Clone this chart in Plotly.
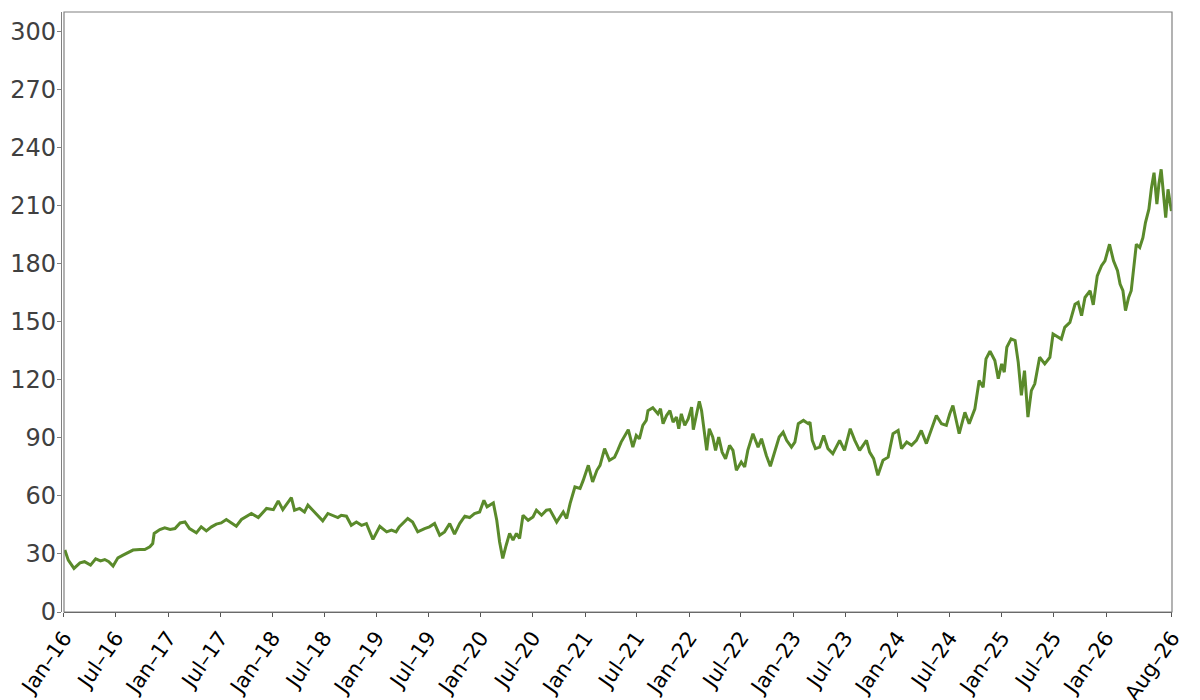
import plotly.graph_objects as go

# --- 資料 (讀自參考圖) ---
dates = [
    "2016-01-04", "2016-01-16", "2016-02-05", "2016-02-26", "2016-03-13", "2016-04-03", "2016-04-21",
    "2016-05-08", "2016-05-23", "2016-06-06", "2016-06-21", "2016-07-08", "2016-07-26", "2016-08-13",
    "2016-08-30", "2016-09-23", "2016-10-10", "2016-10-28", "2016-11-07", "2016-11-12", "2016-12-02",
    "2016-12-19", "2017-01-07", "2017-01-24", "2017-02-11", "2017-02-28", "2017-03-16", "2017-04-09",
    "2017-04-26", "2017-05-14", "2017-06-01", "2017-06-18", "2017-07-05", "2017-07-23", "2017-08-10",
    "2017-08-27", "2017-09-14", "2017-10-02", "2017-10-19", "2017-11-12", "2017-11-29", "2017-12-11",
    "2018-01-04", "2018-01-21", "2018-02-06", "2018-02-19", "2018-03-08", "2018-03-19", "2018-04-06",
    "2018-04-23", "2018-05-05", "2018-05-22", "2018-06-09", "2018-06-26", "2018-07-14", "2018-08-01",
    "2018-08-18", "2018-08-30", "2018-09-17", "2018-10-04", "2018-10-22", "2018-11-09", "2018-11-26",
    "2018-12-08", "2018-12-19", "2019-01-12", "2019-02-05", "2019-02-22", "2019-03-10", "2019-03-21",
    "2019-04-20", "2019-05-07", "2019-05-25", "2019-06-18", "2019-07-05", "2019-07-23", "2019-08-10",
    "2019-08-27", "2019-09-14", "2019-10-01", "2019-10-19", "2019-11-06", "2019-11-23", "2019-12-10",
    "2019-12-28", "2020-01-12", "2020-01-23", "2020-02-14", "2020-02-26", "2020-03-07", "2020-03-18",
    "2020-03-30", "2020-04-11", "2020-04-23", "2020-05-05", "2020-05-16", "2020-05-28", "2020-06-15",
    "2020-07-02", "2020-07-14", "2020-08-01", "2020-08-18", "2020-08-30", "2020-09-23", "2020-10-16",
    "2020-10-28", "2020-11-09", "2020-11-26", "2020-12-14", "2020-12-25", "2021-01-12", "2021-01-27",
    "2021-02-11", "2021-02-22", "2021-03-10", "2021-03-27", "2021-04-14", "2021-04-25", "2021-05-07",
    "2021-06-01", "2021-06-17", "2021-06-29", "2021-07-10", "2021-07-22", "2021-08-03", "2021-08-09",
    "2021-08-26", "2021-09-13", "2021-09-22", "2021-10-01", "2021-10-13", "2021-10-25", "2021-11-05",
    "2021-11-17", "2021-11-25", "2021-12-04", "2021-12-16", "2021-12-28", "2022-01-09", "2022-01-15",
    "2022-01-27", "2022-02-05", "2022-02-13", "2022-02-21", "2022-03-03", "2022-03-12", "2022-03-24",
    "2022-04-03", "2022-04-14", "2022-04-26", "2022-05-08", "2022-05-22", "2022-06-03", "2022-06-15",
    "2022-07-02", "2022-07-14", "2022-07-25", "2022-08-12", "2022-08-30", "2022-09-11", "2022-09-28",
    "2022-10-12", "2022-10-27", "2022-11-12", "2022-11-26", "2022-12-08", "2022-12-25", "2023-01-06",
    "2023-01-18", "2023-02-05", "2023-02-22", "2023-02-28", "2023-03-08", "2023-03-19", "2023-04-03",
    "2023-04-17", "2023-05-02", "2023-05-19", "2023-06-12", "2023-06-29", "2023-07-19", "2023-08-04",
    "2023-08-21", "2023-09-14", "2023-09-25", "2023-10-09", "2023-10-24", "2023-11-11", "2023-11-29",
    "2023-12-16", "2024-01-03", "2024-01-15", "2024-02-02", "2024-02-19", "2024-03-07", "2024-03-24",
    "2024-04-11", "2024-04-28", "2024-05-16", "2024-06-03", "2024-06-20", "2024-07-02", "2024-07-13",
    "2024-08-04", "2024-08-24", "2024-09-08", "2024-09-28", "2024-10-13", "2024-10-27", "2024-11-06",
    "2024-11-20", "2024-12-07", "2024-12-19", "2024-12-31", "2025-01-09", "2025-01-18", "2025-02-02",
    "2025-02-16", "2025-02-27", "2025-03-10", "2025-03-21", "2025-04-02", "2025-04-14", "2025-04-26",
    "2025-05-07", "2025-05-13", "2025-05-31", "2025-06-18", "2025-06-29", "2025-07-16", "2025-07-28",
    "2025-08-09", "2025-08-27", "2025-09-14", "2025-09-25", "2025-10-07", "2025-10-19", "2025-11-06",
    "2025-11-17", "2025-12-01", "2025-12-16", "2025-12-28", "2026-01-13", "2026-01-27", "2026-02-10",
    "2026-02-19", "2026-03-01", "2026-03-10", "2026-03-21", "2026-03-30", "2026-04-08", "2026-04-17",
    "2026-04-29", "2026-05-10", "2026-05-19", "2026-05-31", "2026-06-09", "2026-06-18", "2026-06-28",
    "2026-07-05", "2026-07-13", "2026-07-22", "2026-07-29", "2026-08-06", "2026-08-18",
]

prices = [
    32.0, 26.8, 22.5, 25.4, 26.0, 24.2, 27.5,
    26.4, 27.1, 26.0, 23.7, 28.0, 29.4, 30.6,
    32.0, 32.3, 32.3, 33.7, 35.4, 40.6, 42.6,
    43.5, 42.6, 43.1, 46.0, 46.5, 43.1, 40.9,
    44.0, 41.9, 44.0, 45.4, 46.0, 47.8, 46.0,
    44.3, 47.8, 49.5, 50.9, 48.8, 51.7, 53.5,
    52.9, 57.4, 52.9, 55.7, 59.1, 52.6, 53.5,
    51.7, 55.2, 52.6, 50.0, 47.1, 50.9, 50.0,
    48.8, 50.0, 49.5, 44.8, 46.5, 44.8, 45.7,
    41.4, 37.5, 44.3, 41.4, 42.3, 41.4, 44.0,
    48.3, 46.5, 41.4, 43.1, 44.0, 45.7, 39.7,
    41.4, 45.7, 40.2, 45.7, 49.5, 48.8, 50.9,
    51.7, 57.7, 54.3, 56.3, 47.4, 36.2, 27.7,
    34.5, 40.6, 37.1, 40.6, 38.0, 50.0, 47.4,
    49.1, 52.6, 50.0, 52.6, 52.9, 46.5, 51.7,
    48.3, 56.0, 64.6, 63.8, 68.0, 75.8, 67.2,
    73.2, 75.8, 84.4, 78.4, 80.0, 83.5, 87.8,
    94.2, 85.2, 91.2, 89.5, 96.4, 99.0, 104.0,
    105.5, 102.4, 105.0, 97.3, 101.5, 104.0, 98.1,
    100.7, 94.7, 102.4, 96.4, 99.8, 105.8, 94.2,
    102.4, 108.9, 104.0, 95.5, 83.5, 94.7, 90.4,
    83.5, 90.4, 82.6, 79.2, 86.1, 83.5, 73.2,
    77.5, 74.9, 83.5, 92.1, 85.2, 89.5, 80.9,
    75.3, 82.6, 90.4, 92.9, 88.7, 85.2, 87.8,
    97.3, 99.0, 97.3, 98.1, 88.7, 84.4, 85.2,
    91.2, 84.4, 81.8, 88.7, 83.5, 94.7, 88.7,
    83.5, 88.7, 82.6, 79.2, 70.6, 78.4, 80.0,
    92.1, 93.8, 84.4, 87.8, 86.1, 88.7, 93.8,
    87.0, 93.8, 101.5, 97.3, 96.4, 102.4, 106.7,
    92.1, 103.2, 97.3, 105.0, 119.6, 116.1, 130.8,
    134.7, 129.9, 120.5, 128.2, 123.9, 136.8, 141.1,
    140.2, 129.0, 111.9, 124.7, 100.7, 114.4, 117.9,
    125.6, 131.6, 128.2, 131.6, 143.6, 141.9, 141.0,
    147.1, 149.6, 159.0, 160.0, 153.1, 162.5, 166.0,
    158.7, 173.7, 178.9, 181.4, 190.0, 181.4, 176.3,
    169.4, 166.0, 155.7, 162.5, 166.0, 179.7, 190.0,
    188.3, 193.4, 201.2, 208.1, 219.2, 227.0, 210.7,
    221.0, 228.7, 215.8, 203.8, 218.4, 207.2,
]

tick_dates = [
    "2016-01-01", "2016-07-01", "2017-01-01", "2017-07-01", "2018-01-01", "2018-07-01",
    "2019-01-01", "2019-07-01", "2020-01-01", "2020-07-01", "2021-01-01", "2021-07-01",
    "2022-01-01", "2022-07-01", "2023-01-01", "2023-07-01", "2024-01-01", "2024-07-01",
    "2025-01-01", "2025-07-01", "2026-01-01", "2026-08-20",
]
tick_labels = [
    "Jan–16", "Jul–16", "Jan–17", "Jul–17", "Jan–18", "Jul–18",
    "Jan–19", "Jul–19", "Jan–20", "Jul–20", "Jan–21", "Jul–21",
    "Jan–22", "Jul–22", "Jan–23", "Jul–23", "Jan–24", "Jul–24",
    "Jan–25", "Jul–25", "Jan–26", "Aug–26",
]
y_ticks = [0, 30, 60, 90, 120, 150, 180, 210, 240, 270, 300]

LINE_COLOR = "#5a8a2b"
X0 = 0.0027  # 左邊框與 y 軸線之間的小間距

fig = go.Figure()
fig.add_trace(go.Scatter(x=dates, y=prices, mode="lines",
                         line=dict(color=LINE_COLOR, width=3), showlegend=False))

# 外框
fig.add_shape(type="rect", xref="paper", yref="paper", x0=X0, x1=1, y0=0, y1=1,
              line=dict(color="#808080", width=1.2), layer="above")

# 頁面 body 有 8px 邊距，所以邊界往回扣
fig.update_layout(
    width=1200, height=700,
    margin=dict(l=53, r=36, t=4, b=96),
    paper_bgcolor="white", plot_bgcolor="white",
    font=dict(family="DejaVu Sans"),
    xaxis=dict(
        domain=[X0, 1], range=["2016-01-01", "2026-08-20"],
        tickmode="array", tickvals=tick_dates, ticktext=tick_labels,
        tickangle=-55, tickfont=dict(size=21, color="black"),
        ticks="outside", ticklen=4, tickcolor="#555555",
        showline=True, linecolor="#555555", linewidth=1.2,
        showgrid=False, zeroline=False, automargin=False,
    ),
    yaxis=dict(
        anchor="free", position=0, range=[0, 310],
        tickmode="array", tickvals=y_ticks,
        tickfont=dict(size=24, color="#404040"),
        ticks="outside", ticklen=4, tickcolor="#808080",
        ticklabelstandoff=-4,
        showline=True, linecolor="#808080", linewidth=1.2,
        showgrid=False, zeroline=False, automargin=False,
    ),
)

fig.write_html("out.html")
